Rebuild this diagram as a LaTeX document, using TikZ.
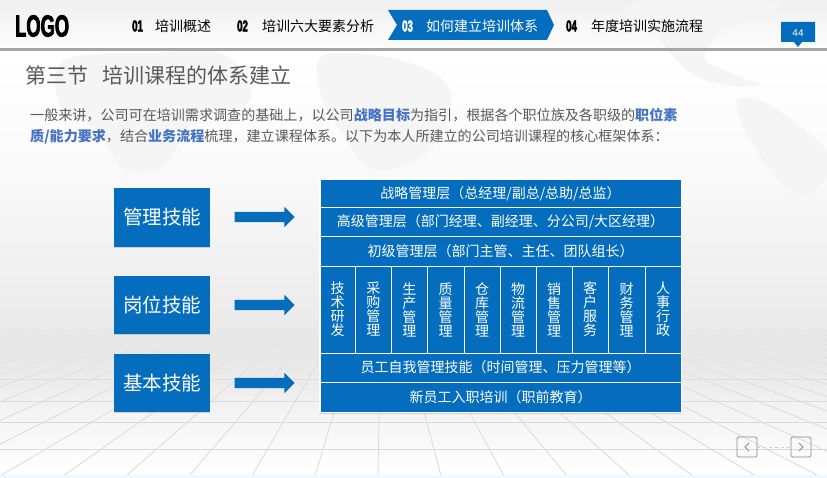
\documentclass[tikz,border=0pt]{standalone}
\usepackage{fontspec}
\setmainfont{Noto Sans CJK SC}
\newfontfamily\numfont[UprightFont=* Bold,FakeStretch=0.6,FakeBold=2.5]{Liberation Sans}
\newfontfamily\latinfont{Liberation Sans}
\usetikzlibrary{shapes.arrows,shadows,fadings}
\definecolor{bluefill}{HTML}{056DBD}
\definecolor{greytext}{HTML}{595959}
\definecolor{hilite}{HTML}{4472C4}
\definecolor{mapgrey}{HTML}{F5F5F5}
\definecolor{floorline}{HTML}{DADADA}
\tikzset{
  skillbox/.style={fill=bluefill, text=white, minimum width=96pt, inner sep=0pt,
    font=\fontsize{19.5}{22}\selectfont, drop shadow={shadow xshift=0pt, shadow yshift=-1pt, opacity=.3}},
  skillarrow/.style={single arrow, fill=bluefill, minimum height=60pt, text height=10pt, text depth=0pt,
    single arrow head extend=5pt, single arrow tip angle=90, inner sep=0pt},
  rowcell/.style={draw=white, line width=.7pt, fill=bluefill, text=white, minimum width=361pt, inner sep=0pt,
    text height=11.5pt, text depth=.9pt, font=\fontsize{14}{15}\selectfont},
  colcell/.style={draw=white, line width=.7pt, fill=bluefill, text=white, minimum height=87pt, inner sep=0pt,
    align=center, font=\fontsize{14}{14}\selectfont},
  navtext/.style={anchor=west, inner sep=0pt, font=\fontsize{14}{16}\selectfont},
  navnum/.style={anchor=west, inner sep=0pt, font=\fontsize{16}{18}\numfont},
  bodyline/.style={anchor=west, inner sep=0pt, text=greytext, font=\fontsize{14.07}{16}\selectfont},
  pagebtn/.style={draw=black!45, line width=.8pt, rounded corners=1.5pt, minimum size=20pt, inner sep=0pt},
}
\newcommand{\hl}[1]{\textcolor{hilite}{\bfseries #1}}
\begin{document}
\begin{tikzpicture}[x=1pt,y=-1pt]
  \useasboundingbox (0,0) rectangle (827,478);

  % Background
  \shade[top color=black!6, bottom color=black!1] (0,0) rectangle (827,48);
  \shade[top color=white, bottom color=black!2] (0,50) rectangle (827,170);
  \shade[top color=black!2, bottom color=black!9] (0,170) rectangle (827,350);
  \shade[top color=black!9, bottom color=white] (0,350) rectangle (827,475);

  % Map patches
  \fill[mapgrey] plot[smooth cycle, tension=.6] coordinates {(635,2) (780,2) (725,30) (705,58) (735,75) (760,85) (725,85) (690,72) (660,40)};
  \fill[mapgrey] plot[smooth cycle, tension=.6] coordinates {(738,100) (770,105) (826,150) (826,178) (800,198) (770,170) (745,130)};
  \fill[mapgrey] plot[smooth cycle, tension=.6] coordinates {(65,60) (150,53) (225,55) (250,100) (195,120) (165,165) (125,170) (95,130) (60,105)};
  \fill[mapgrey] plot[smooth cycle, tension=.6] coordinates {(325,55) (400,60) (450,90) (430,150) (375,170) (340,130) (320,90)};

  % Floor
  \foreach \rowy in {379,401,422,449}
    \draw[floorline, line width=.8pt] (0,\rowy) -- (827,\rowy);
  \foreach \k in {-24,...,24}
    \draw[floorline, line width=.8pt] ({382+(63*\k-4)*0.35},330) -- ({382+63*\k-4},476);
  \fill[black!9, path fading=south] (0,330) rectangle (827,400);
  \fill[black!12!cyan!6!white] (0,475) rectangle (827,478);

  % Header
  \fill[black!35] (0,48) rectangle (827,51);
  \node[anchor=west, inner sep=0pt, font=\fontsize{30.5}{32}\numfont] (logo) at (15,26) {LOGO};
  \node[navnum] (num1) at (132,26) {01};
  \node[navtext] (nav1) at (155,26) {培训概述};
  \node[navnum] (num2) at (237,26) {02};
  \node[navtext] (nav2) at (262,26) {培训六大要素分析};
  \fill[bluefill] (388,10) -- (547,10) -- (554,25) -- (547,40) -- (388,40) -- (397,25) -- cycle; % current tab
  \node[navnum, text=white] (num3) at (402,26) {03};
  \node[navtext, text=white] (nav3) at (426,26) {如何建立培训体系};
  \node[navnum] (num4) at (566,26) {04};
  \node[navtext] (nav4) at (591,26) {年度培训实施流程};

  % Page tag
  \fill[bluefill] (781,22) -- (815,22) -- (815,42) -- (802,42) -- (798,47) -- (794,42) -- (781,42) -- cycle;
  \node[text=white, inner sep=0pt, font=\fontsize{10}{12}\latinfont] (pagenum) at (798,33) {44};

  % Title and intro
  \node[anchor=west, inner sep=0pt, text=greytext, font=\fontsize{21}{24}\selectfont] (title) at (25,75) {第三节\hspace{14pt}培训课程的体系建立};
  \node[bodyline] (line1) at (30,115) {一般来讲，公司可在培训需求调查的基础上，以公司\hl{战略目标}为指引，根据各个职位族及各职级的\hl{职位素}};
  \node[bodyline] (line2) at (30,137) {\hl{质/能力要求}，结合\hl{业务流程}梳理，建立课程体系。以下为本人所建立的公司培训课程的核心框架体系：};

  % Skill boxes
  \node[skillbox, minimum height=59pt] (mgmt) at (162,217.5) {管理技能};
  \node[skillbox, minimum height=58pt] (post) at (162,305) {岗位技能};
  \node[skillbox, minimum height=58pt] (base) at (162,383) {基本技能};

  % Arrows
  \node[skillarrow] (arrow1) at (262,217) {};
  \node[skillarrow] (arrow2) at (262,305) {};
  \node[skillarrow] (arrow3) at (262,383) {};

  % Stack
  \fill[white, drop shadow={shadow xshift=0pt, shadow yshift=-1pt, opacity=.3}] (319,178) rectangle (682,413);
  \node[rowcell, minimum height=28pt] (top) at (500.5,193) {战略管理层（总经理/副总/总助/总监）};
  \node[rowcell, minimum height=29pt] (senior) at (500.5,221.5) {高级管理层（部门经理、副经理、分公司/大区经理）};
  \node[rowcell, minimum height=30pt] (junior) at (500.5,251) {初级管理层（部门主管、主任、团队组长）};
  \foreach \cname/\xl/\xr/\ctext in {
      tech/320/355/技\\术\\研\\发, buy/355/391.5/采\\购\\管\\理, prod/391.5/427/生\\产\\管\\理,
      qual/427/464/质\\量\\管\\理, store/464/500/仓\\库\\管\\理, logi/500/536/物\\流\\管\\理,
      sale/536/572/销\\售\\管\\理, cust/572/608/客\\户\\服\\务, fin/608/645/财\\务\\管\\理,
      hr/645/681/人\\事\\行\\政}
    \node[colcell, minimum width=\xr pt-\xl pt] (\cname) at ({(\xl+\xr)/2},309.5) {\ctext};
  \node[rowcell, minimum height=29pt] (self) at (500.5,367.5) {员工自我管理技能（时间管理、压力管理等）};
  \node[rowcell, minimum height=30pt] (newhire) at (500.5,397) {新员工入职培训（职前教育）};

  % Page buttons
  \node[pagebtn] (prev) at (747,447) {};
  \node[pagebtn] (next) at (801,447) {};
  \draw[black!45, line width=.8pt] (749,443) -- (745,447) -- (749,451);
  \draw[black!45, line width=.8pt] (799,443) -- (803,447) -- (799,451);
  \draw[black!20, dashed] (prev) -- (next);
\end{tikzpicture}
\end{document}
